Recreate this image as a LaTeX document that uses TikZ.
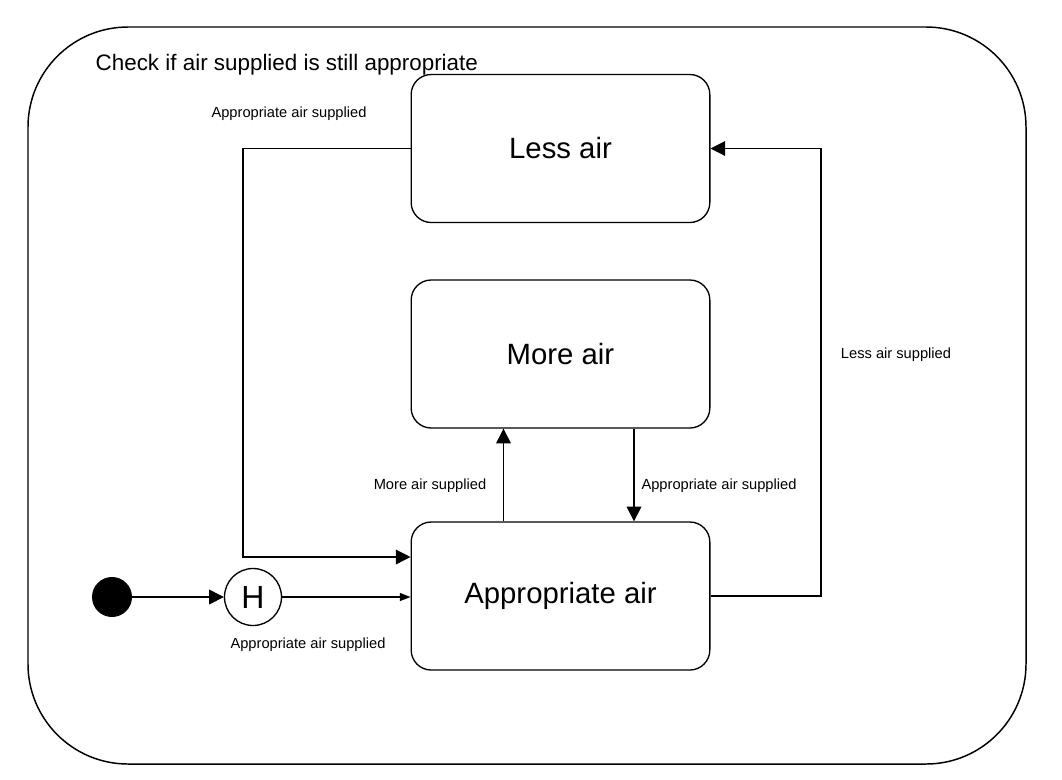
\documentclass[tikz,border=0pt]{standalone}
\usepackage[dvipsnames]{xcolor}
\usepackage{fontspec}
\setmainfont{Liberation Sans}
\usepackage{tikz}
\usetikzlibrary{calc,arrows.meta}

\tikzset{state/.style = {draw, line width = 1pt, rounded corners = 15pt, minimum width = 224pt, minimum height = 111pt, font = \fontsize{22}{26}\selectfont},
         lbl/.style = {font = \fontsize{11}{13}\selectfont},
         trans/.style = {-{Triangle[length = 11pt, width = 11pt]}, line width = 0.9pt}}

\begin{document}
\begin{tikzpicture} [x = 0.75pt, y = -0.75pt]
                \useasboundingbox (0,0) rectangle (1062,779);
                \draw [line width = 1.1pt, rounded corners = 75pt] (28,27) rectangle (1026,764);
                \node [anchor = west, font = \fontsize{16.8}{20}\selectfont] (title) at (91,65) {Check if air supplied is still appropriate};
                \node [state] (less) at (560.5,148.5) {Less air};
                \node [state] (more) at (560.5,354) {More air};
                \node [state] (appr) at (560.5,596) {Appropriate air};
                \node [circle, fill = black, minimum size = 30pt, inner sep = 0pt] (init) at (112,597) {};
                \node [circle, draw, line width = 1pt, minimum size = 42.75pt, inner sep = 0pt, font = \fontsize{24}{28}\selectfont] (hist) at (253,597) {H};
                \draw [trans] (init) -- (hist);
                \draw [-{Triangle[length = 8pt, width = 6pt]}, line width = 0.9pt] (hist) -- (hist -| appr.west);
                \draw [trans] (less.west) -- (243,148.5) |- ($(appr.west)+(0,-39)$);
                \draw [trans] ($(appr.north)+(-57,0)$) -- ($(more.south)+(-57,0)$);
                \draw [trans] ($(more.south)+(73.5,0)$) -- ($(appr.north)+(73.5,0)$);
                \draw [trans] (appr.east) -- (821,596) |- (less.east);
                \node [lbl] (supA) at (289,113.5) {Appropriate air supplied};
                \node [lbl] (supL) at (896,354.5) {Less air supplied};
                \node [lbl] (supM) at (430,485.5) {More air supplied};
                \node [lbl] (supB) at (719,485.5) {Appropriate air supplied};
                \node [lbl] (supH) at (308,644.5) {Appropriate air supplied};
            \end{tikzpicture}
\end{document}
